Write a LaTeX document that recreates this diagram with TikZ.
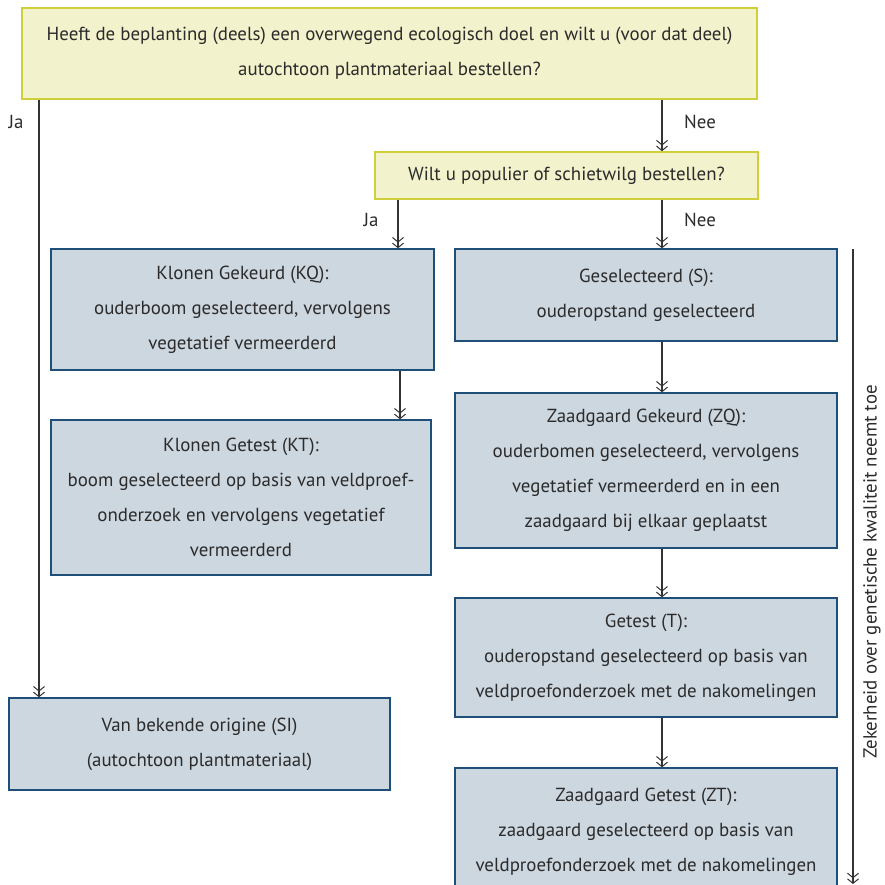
\documentclass[tikz,border=0pt]{standalone}
\usepackage{fontspec}
\setmainfont{PT Sans}
\usetikzlibrary{arrows.meta}
\definecolor{yfill}{HTML}{F2F2CC}
\definecolor{ydraw}{HTML}{CFCF3C}
\definecolor{bfill}{HTML}{CDD7E0}
\definecolor{bdraw}{HTML}{1F4E79}
\definecolor{txt}{HTML}{2B2B2B}
\definecolor{ln}{HTML}{333333}
\tikzset{
  x=1pt,y=-1pt,
  every node/.style={text=txt,font=\fontsize{18.9}{35}\selectfont,align=center,inner sep=0pt},
  ybox/.style={draw=ydraw,fill=yfill,line width=1.6pt},
  bbox/.style={draw=bdraw,fill=bfill,line width=1.4pt},
  arr/.style={draw=ln,line width=1.1pt,-{Straight Barb[length=4.5pt,width=11pt,line width=1pt]Straight Barb[length=4.5pt,width=11pt,line width=1pt]}},
  lbl/.style={font=\fontsize{18.9}{20}\selectfont}
}
\begin{document}
\begin{tikzpicture}
\useasboundingbox (0,0) rectangle (885,885);
\begin{scope}
\clip (0,0) rectangle (885,885);
\node[ybox,minimum width=735pt,minimum height=91pt] (q1) at (389.5,53.5) {Heeft de beplanting (deels) een overwegend ecologisch doel en wilt u (voor dat deel)\\autochtoon plantmateriaal bestellen?};
\node[ybox,minimum width=383pt,minimum height=47pt] (q2) at (566.5,175.5) {Wilt u populier of schietwilg bestellen?};
\node[bbox,minimum width=383pt,minimum height=121pt] (kq) at (242.5,309.5) {Klonen Gekeurd (KQ):\\ouderboom geselecteerd, vervolgens\\vegetatief vermeerderd};
\node[bbox,minimum width=380pt,minimum height=155pt] (kt) at (241,497.5) {Klonen Getest (KT):\\boom geselecteerd op basis van veldproef-\\onderzoek en vervolgens vegetatief\\vermeerderd};
\node[bbox,minimum width=381pt,minimum height=92pt] (si) at (199.5,744) {Van bekende origine (SI)\\(autochtoon plantmateriaal)};
\node[bbox,minimum width=382pt,minimum height=92pt] (s) at (646,295) {Geselecteerd (S):\\ouderopstand geselecteerd};
\node[bbox,minimum width=382pt,minimum height=155pt] (zq) at (646,470.5) {Zaadgaard Gekeurd (ZQ):\\ouderbomen geselecteerd, vervolgens\\vegetatief vermeerderd en in een\\zaadgaard bij elkaar geplaatst};
\node[bbox,minimum width=382pt,minimum height=119pt] (t) at (646,657.5) {Getest (T):\\ouderopstand geselecteerd op basis van\\veldproefonderzoek met de nakomelingen};
\node[bbox,minimum width=382pt,minimum height=127pt] (zt) at (646,831.5) {Zaadgaard Getest (ZT):\\zaadgaard geselecteerd op basis van\\veldproefonderzoek met de nakomelingen};
\end{scope}
% connectors
\draw[arr] (q1.south -| 39,0) -- (si.north -| 39,0);
\node[lbl] (ja1) at (16,122) {Ja};
\draw[arr] (q1.south -| 662,0) -- (q2.north -| 662,0);
\node[lbl] (nee1) at (700,122) {Nee};
\draw[arr] (q2.south -| 398,0) -- (kq.north -| 398,0);
\node[lbl] (ja2) at (371,220) {Ja};
\draw[arr] (q2.south -| 662,0) -- (s.north -| 662,0);
\node[lbl] (nee2) at (700,220) {Nee};
\draw[arr] (kq.south -| 400,0) -- (kt.north -| 400,0);
\draw[arr] (s.south -| 662,0) -- (zq.north -| 662,0);
\draw[arr] (zq.south -| 662,0) -- (t.north -| 662,0);
\draw[arr] (t.south -| 662,0) -- (zt.north -| 662,0);
\coordinate (g1) at (853,249);
\coordinate (g2) at (853,884);
\draw[arr] (g1) -- (g2);
\node[lbl,rotate=90] (gl) at (872,572) {Zekerheid over genetische kwaliteit neemt toe};
\end{tikzpicture}
\end{document}
